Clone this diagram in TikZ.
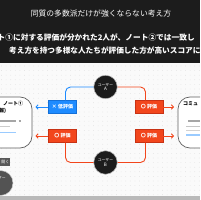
\documentclass[tikz,border=0pt]{standalone}
\usepackage{fontspec}
\newfontfamily\jp{Noto Sans CJK JP}
\usetikzlibrary{arrows.meta}
\definecolor{hdr}{HTML}{1C1C1C}
\definecolor{bl}{HTML}{1E8BFF}
\definecolor{bld}{HTML}{1470D8}
\definecolor{rd}{HTML}{F2461C}
\definecolor{rdd}{HTML}{C83214}
\definecolor{paper}{HTML}{FAFAFA}
\tikzset{
  usr/.style={circle, fill=hdr, draw=gray!55, line width=0.5pt, minimum size=23.5pt, inner sep=0pt,
    text=white, align=center, font=\jp\fontsize{3.8}{4.6}\selectfont},
  badge/.style={rectangle, minimum width=28pt, minimum height=12.5pt, inner sep=0pt,
    text=white, line width=0.6pt, font=\jp\bfseries\fontsize{5}{6}\selectfont},
  bbadge/.style={badge, fill=bl, draw=bld},
  rbadge/.style={badge, fill=rd, draw=rdd},
  link/.style={line width=0.9pt, rounded corners=5pt},
  arr/.style={line width=0.9pt, -{Straight Barb[length=2pt,width=4.5pt]}},
  note/.style={draw=gray!75!black, fill=white, line width=0.7pt, rounded corners=12pt,
    minimum width=62pt, minimum height=51pt, inner sep=0pt},
  row/.style={line width=1.1pt},
}
\begin{document}
\begin{tikzpicture}[x=1pt,y=-1pt]
\useasboundingbox (0,0) rectangle (200,200);
\clip (0,0) rectangle (200,200);
% backgrounds
\fill[hdr] (0,0) rectangle (200,63);
\fill[paper] (0,63) rectangle (200,196);
\foreach \i in {0,...,43}{\foreach \j in {0,...,28}{\fill[gray!30] (1.5+\i*4.6, 66+\j*4.6) circle (0.35);}}
\fill[gray!55] (0,196) rectangle (200,200);
% header text
\node[text=white, font=\jp\fontsize{7.8}{8}\selectfont, inner sep=0pt] (title) at (101,14) {同質の多数派だけが強くならない考え方};
\node[anchor=west, text=white, font=\jp\bfseries\fontsize{7.7}{8}\selectfont, inner sep=0pt] (l2) at (-2.5,38) {ト①に対する評価が分かれた2人が、ノート②では一致し};
\node[anchor=west, text=white, font=\jp\bfseries\fontsize{7.65}{8}\selectfont, inner sep=0pt] (l3) at (9,51) {考え方を持つ多様な人たちが評価した方が高いスコアに};
% notes
\node[note] (n1) at (1,122.5) {};
\node[font=\jp\bfseries\fontsize{5}{6}\selectfont, inner sep=0pt] (n1t) at (13,104) {ノート①};
\node[anchor=west, font=\jp\bfseries\fontsize{5}{6}\selectfont, inner sep=0pt] (n1s) at (-1,111) {報)};
\draw[row, gray!70] (0,121) -- (16,121) (18.5,121) -- (20.5,121);
\draw[row, gray!40] (0,126.5) -- (10,126.5);
\draw[row, bl!45] (0,132.5) -- (16,132.5);
\node[note] (n2) at (209,122.5) {};
\node[anchor=west, font=\jp\bfseries\fontsize{5}{6}\selectfont, inner sep=0pt] (n2t) at (183,104) {コミュ};
\draw[row, gray!70] (188,121) -- (200,121);
\draw[row, gray!45] (186,126.5) -- (200,126.5);
\draw[row, gray!35] (186,130.5) -- (200,130.5);
\draw[row, bl!45] (186,135) -- (200,135);
% users
\node[usr] (A) at (105.5,87) {ユーザー\\[-0.3pt]{\fontsize{4.6}{5}\selectfont A}};
\node[usr] (B) at (105.5,162.5) {ユーザー\\[-0.3pt]{\fontsize{4.6}{5}\selectfont B}};
% badges
\node[bbadge] (lo) at (62.5,107) {× 低評価};
\node[rbadge] (ha) at (149,107) {〇 評価};
\node[rbadge] (lb) at (62.5,136) {〇 評価};
\node[rbadge] (hb) at (149,136) {〇 評価};
% connectors
\draw[link, bl] (A.west) -| ([xshift=3pt]lo.north);
\draw[link, rd] (A.east) -| ([xshift=-3.5pt]ha.north);
\draw[link, rd] ([xshift=3pt]lb.south) |- (B.west);
\draw[link, rd] ([xshift=-3.5pt]hb.south) |- (B.east);
\coordinate (p1) at (35.5,107);
\coordinate (p2) at (174,107);
\coordinate (p3) at (35.5,136);
\coordinate (p4) at (174,136);
\draw[arr, bl] (lo.west) -- (p1);
\draw[arr, rd] (ha.east) -- (p2);
\draw[arr, rd] (lb.west) -- (p3);
\draw[arr, rd] (hb.east) -- (p4);
% bottom-left partial items
\node[fill=gray!70!black, minimum width=16pt, minimum height=8pt, inner sep=0pt] (open) at (2,162) {};
\node[anchor=east, text=white, font=\jp\fontsize{4}{5}\selectfont, inner sep=0pt] (opent) at (9.5,162) {開く};
\node[circle, fill=gray!65!black, draw=gray!40, line width=0.5pt, minimum size=25pt, inner sep=0pt] (C) at (0.5,183) {};
\node[text=white, font=\jp\fontsize{3.8}{4.6}\selectfont, inner sep=0pt] (Ct) at (-2,178.5) {ユーザー};
\end{tikzpicture}
\end{document}
